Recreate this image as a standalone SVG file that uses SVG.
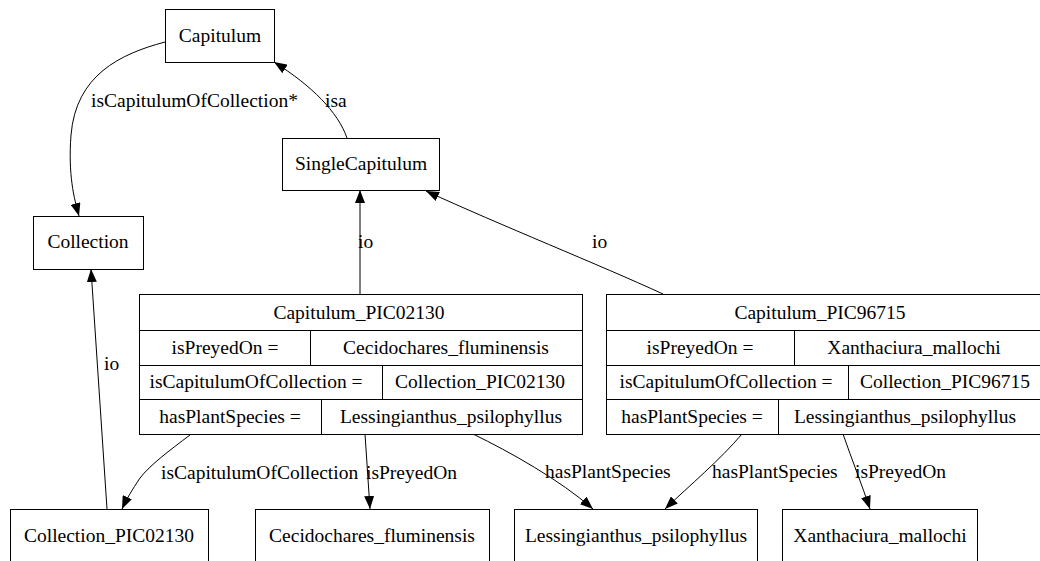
<svg xmlns="http://www.w3.org/2000/svg" width="1040" height="561" viewBox="0 0 1040 561">
  <style>
    text { font-family: "Liberation Serif", "Times New Roman", serif; font-size: 19.5px; fill: #000; }
    .c { text-anchor: middle; }
    .box { fill: #fff; stroke: #000; stroke-width: 1; }
    .sep { stroke: #000; stroke-width: 1; fill: none; }
    .edge { fill: none; stroke: #000; stroke-width: 1; marker-end: url(#arrow); }
  </style>
  <defs>
    <marker id="arrow" viewBox="0 0 13 10" refX="13" refY="5" markerWidth="13" markerHeight="10" markerUnits="userSpaceOnUse" orient="auto">
      <path d="M0,0 L13,5 L0,10 z" fill="#000"/>
    </marker>
  </defs>
  <rect width="1040" height="561" fill="#fff"/>

  <!-- connectors -->
  <g id="edges">
    <path class="edge" d="M165,42 C120,54 76,75 71,135 C68,175 74,198 79,216"/>
    <path class="edge" d="M347,138 C338,112 312,86 274,62"/>
    <path class="edge" d="M360,294 L360,190"/>
    <path class="edge" d="M663,294 C600,265 500,225 426,191"/>
    <path class="edge" d="M107,509 L91,269"/>
    <path class="edge" d="M190,435 C170,450 150,465 140,478 C132,490 126,500 122,509"/>
    <path class="edge" d="M365,434 L370,509"/>
    <path class="edge" d="M473,434 C510,452 560,480 593,509"/>
    <path class="edge" d="M742,434 C720,460 690,485 665,509"/>
    <path class="edge" d="M843,434 C852,460 862,485 870,509"/>
    <text x="91" y="107">isCapitulumOfCollection*</text>
    <text x="325" y="107">isa</text>
    <text x="358" y="248">io</text>
    <text x="592" y="248">io</text>
    <text x="104" y="370">io</text>
    <text x="161" y="479">isCapitulumOfCollection</text>
    <text x="366" y="479">isPreyedOn</text>
    <text x="545" y="478">hasPlantSpecies</text>
    <text x="712" y="478">hasPlantSpecies</text>
    <text x="855" y="478">isPreyedOn</text>
  </g>

  <g id="Capitulum">
    <rect class="box" x="165.5" y="9.5" width="109" height="53"/>
    <text class="c" x="220" y="42">Capitulum</text>
  </g>
  <g id="SingleCapitulum">
    <rect class="box" x="282.5" y="138.5" width="157" height="52"/>
    <text class="c" x="361" y="170">SingleCapitulum</text>
  </g>
  <g id="Collection">
    <rect class="box" x="33.5" y="216.5" width="110" height="53"/>
    <text class="c" x="88" y="248">Collection</text>
  </g>

  <g id="Capitulum_PIC02130">
    <rect class="box" x="139.5" y="294.5" width="443" height="140"/>
    <path class="sep" d="M139.5,330.5 H582.5 M139.5,365.5 H582.5 M139.5,399.5 H582.5 M310.5,330.5 V365.5 M382.5,365.5 V399.5 M321.5,399.5 V434.5"/>
    <text class="c" x="359" y="319">Capitulum_PIC02130</text>
    <text class="c" x="225" y="354">isPreyedOn =</text>
    <text class="c" x="446" y="354">Cecidochares_fluminensis</text>
    <text class="c" x="256" y="388">isCapitulumOfCollection =</text>
    <text class="c" x="480" y="388">Collection_PIC02130</text>
    <text class="c" x="230" y="423">hasPlantSpecies =</text>
    <text class="c" x="451" y="423">Lessingianthus_psilophyllus</text>
  </g>

  <g id="Capitulum_PIC96715">
    <rect class="box" x="606.5" y="294.5" width="436" height="140"/>
    <path class="sep" d="M606.5,330.5 H1042 M606.5,365.5 H1042 M606.5,399.5 H1042 M794.5,330.5 V365.5 M848.5,365.5 V399.5 M778.5,399.5 V434.5"/>
    <text class="c" x="820" y="319">Capitulum_PIC96715</text>
    <text class="c" x="700" y="354">isPreyedOn =</text>
    <text class="c" x="914" y="354">Xanthaciura_mallochi</text>
    <text class="c" x="726" y="388">isCapitulumOfCollection =</text>
    <text class="c" x="945" y="388">Collection_PIC96715</text>
    <text class="c" x="692" y="423">hasPlantSpecies =</text>
    <text class="c" x="905" y="423">Lessingianthus_psilophyllus</text>
  </g>

  <g id="Collection_PIC02130">
    <rect class="box" x="10.5" y="509.5" width="198" height="53"/>
    <text class="c" x="109" y="542">Collection_PIC02130</text>
  </g>
  <g id="Cecidochares_fluminensis">
    <rect class="box" x="255.5" y="509.5" width="234" height="53"/>
    <text class="c" x="372" y="542">Cecidochares_fluminensis</text>
  </g>
  <g id="Lessingianthus_psilophyllus">
    <rect class="box" x="514.5" y="509.5" width="243" height="53"/>
    <text class="c" x="636" y="542">Lessingianthus_psilophyllus</text>
  </g>
  <g id="Xanthaciura_mallochi">
    <rect class="box" x="782.5" y="509.5" width="195" height="53"/>
    <text class="c" x="880" y="542">Xanthaciura_mallochi</text>
  </g>
</svg>
